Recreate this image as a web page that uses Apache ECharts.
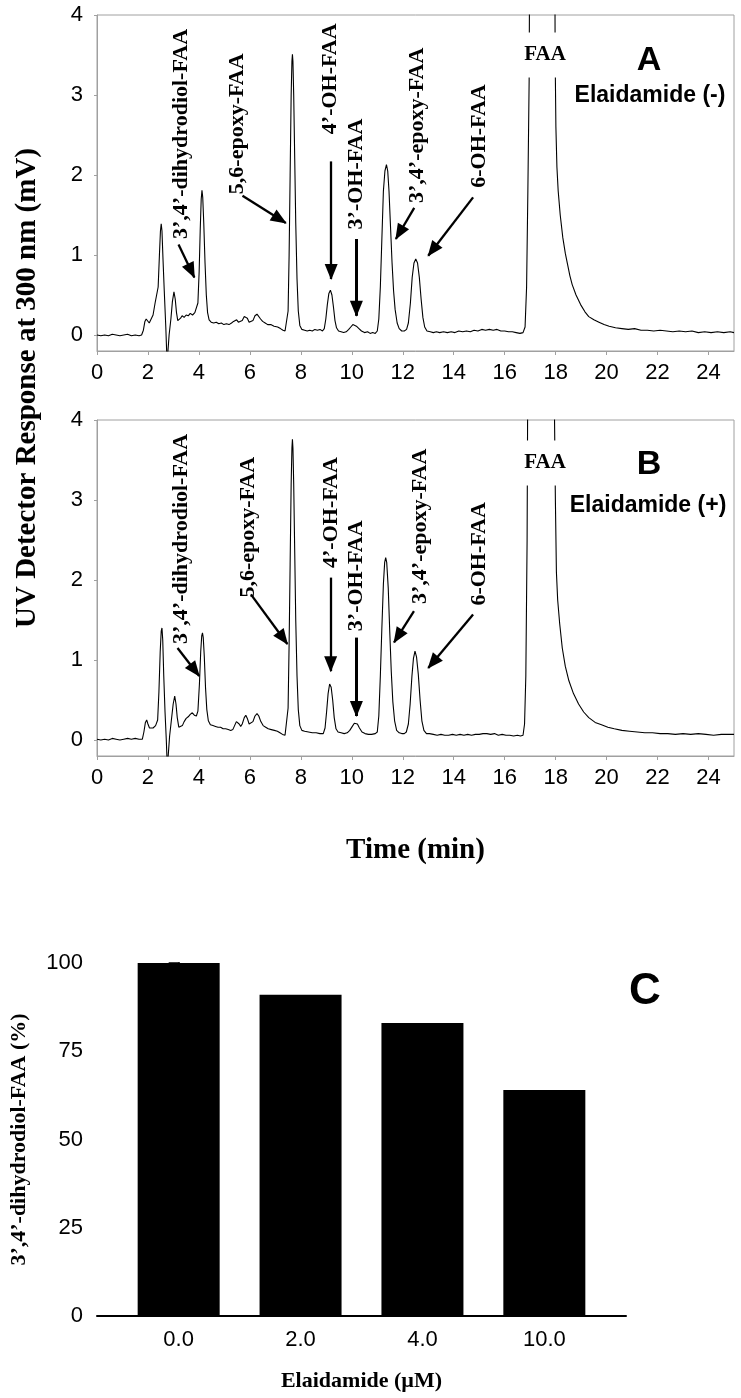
<!DOCTYPE html>
<html><head><meta charset="utf-8">
<script src="https://cdn.jsdelivr.net/npm/echarts@6/dist/echarts.min.js"></script>
<style>html,body{margin:0;padding:0;background:#fff}#c{width:741px;height:1398px}</style>
</head><body><div id="c"></div>
<script>
// ---------- DATA ----------
// Panel A chromatogram (Elaidamide -): [retention time (min), UV response (mV)]
const traceA = [[0.0,0.00],[0.15,-0.01],[0.3,0.00],[0.45,-0.01],[0.6,0.01],[0.75,0.00],[0.9,-0.01],[1.05,0.00],[1.2,0.01],[1.35,-0.01],[1.5,0.00],[1.65,-0.01],[1.75,0.00],
[1.82,0.06],[1.88,0.17],[1.93,0.20],[1.98,0.18],[2.05,0.15],[2.12,0.17],[2.2,0.25],[2.28,0.40],[2.34,0.42],[2.40,0.60],[2.45,1.00],[2.49,1.30],[2.52,1.39],[2.55,1.30],[2.59,0.95],[2.64,0.55],[2.70,0.10],[2.75,-0.35],[2.79,-0.35],[2.83,0.00],[2.90,0.20],[2.96,0.42],[3.02,0.54],[3.07,0.45],[3.12,0.28],[3.17,0.18],[3.22,0.17],[3.28,0.21],[3.34,0.24],[3.42,0.22],[3.50,0.25],[3.58,0.24],[3.66,0.27],[3.75,0.25],[3.84,0.28],[3.90,0.30],[3.96,0.40],[4.01,0.80],[4.05,1.30],[4.09,1.70],[4.12,1.81],[4.15,1.72],[4.19,1.40],[4.24,0.90],[4.29,0.50],[4.34,0.28],[4.40,0.19],[4.48,0.16],[4.58,0.15],[4.68,0.16],[4.78,0.14],[4.88,0.15],[4.98,0.13],[5.08,0.14],[5.18,0.13],[5.28,0.15],[5.36,0.17],[5.42,0.19],[5.48,0.19],[5.55,0.16],[5.62,0.15],[5.70,0.18],[5.78,0.23],[5.84,0.24],[5.90,0.21],[5.97,0.16],[6.04,0.15],[6.12,0.18],[6.20,0.24],[6.28,0.26],[6.34,0.25],[6.42,0.20],[6.50,0.17],[6.60,0.15],[6.70,0.13],[6.82,0.13],[6.95,0.11],[7.09,0.10],[7.20,0.08],[7.30,0.06],[7.38,0.05],[7.45,0.07],
[7.50,0.30],[7.54,1.00],[7.58,2.00],[7.62,3.00],[7.65,3.42],[7.67,3.51],[7.69,3.42],[7.72,3.00],[7.76,2.20],[7.80,1.40],[7.85,0.70],[7.90,0.30],[7.96,0.12],[8.04,0.07],[8.15,0.06],[8.25,0.05],[8.35,0.06],[8.45,0.05],[8.55,0.07],[8.65,0.06],[8.75,0.07],[8.85,0.05],[8.92,0.08],[8.98,0.20],[9.04,0.38],[9.10,0.52],[9.16,0.56],[9.22,0.50],[9.28,0.35],[9.34,0.18],[9.40,0.09],[9.48,0.05],[9.58,0.04],[9.68,0.03],[9.78,0.04],[9.88,0.07],[9.96,0.10],[10.04,0.13],[10.10,0.13],[10.18,0.11],[10.28,0.08],[10.38,0.05],[10.50,0.03],[10.62,0.04],[10.72,0.02],[10.82,0.03],[10.92,0.02],[11.00,0.05],[11.06,0.20],[11.12,0.60],[11.18,1.20],[11.24,1.80],[11.30,2.05],[11.36,2.13],[11.41,2.05],[11.46,1.80],[11.52,1.35],[11.58,0.90],[11.64,0.55],[11.70,0.32],[11.78,0.15],[11.86,0.08],[11.96,0.05],[12.06,0.05],[12.15,0.07],[12.22,0.15],[12.30,0.40],[12.37,0.72],[12.44,0.90],[12.51,0.95],[12.58,0.90],[12.65,0.72],[12.72,0.45],[12.79,0.22],[12.86,0.10],[12.95,0.05],[13.08,0.04],[13.20,0.03],[13.32,0.04],[13.45,0.03],[13.60,0.04],[13.75,0.03],[13.90,0.04],[14.05,0.03],[14.20,0.05],[14.35,0.04],[14.50,0.05],[14.65,0.04],[14.80,0.06],[14.95,0.05],[15.10,0.07],[15.25,0.06],[15.40,0.07],[15.55,0.06],[15.70,0.07],[15.85,0.05],[16.00,0.05],[16.15,0.04],[16.30,0.04],[16.45,0.03],[16.60,0.02],[16.72,0.03],[16.80,0.10],[16.86,0.60],[16.91,1.80],[16.96,3.18],[17.02,8.0],[17.50,12.0],[17.94,8.0],[17.98,3.50],[18.01,2.60],[18.05,2.10],[18.10,1.80],[18.18,1.50],[18.28,1.22],[18.38,1.02],[18.47,0.88],[18.56,0.74],[18.65,0.63],[18.80,0.50],[18.98,0.38],[19.15,0.29],[19.30,0.23],[19.50,0.19],[19.70,0.16],[19.90,0.13],[20.10,0.11],[20.35,0.09],[20.60,0.08],[20.85,0.07],[21.10,0.08],[21.35,0.06],[21.60,0.06],[21.85,0.05],[22.10,0.06],[22.35,0.05],[22.60,0.04],[22.85,0.05],[23.10,0.04],[23.35,0.05],[23.60,0.03],[23.85,0.04],[24.10,0.03],[24.35,0.04],[24.60,0.03],[24.85,0.04],[25.00,0.03]];
// Panel B chromatogram (Elaidamide +)
const traceB = [[0.0,0.01],[0.15,0.00],[0.3,0.01],[0.45,0.00],[0.6,0.02],[0.75,0.01],[0.9,0.00],[1.05,0.01],[1.2,0.02],[1.35,0.01],[1.5,0.02],[1.65,0.01],[1.78,0.01],
[1.84,0.10],[1.90,0.22],[1.95,0.25],[2.00,0.20],[2.06,0.15],[2.12,0.13],[2.20,0.15],[2.30,0.18],[2.38,0.25],[2.43,0.60],[2.48,1.10],[2.52,1.36],[2.55,1.40],[2.58,1.25],[2.62,0.80],[2.67,0.35],[2.72,0.00],[2.76,-0.35],[2.80,-0.35],[2.85,0.05],[2.92,0.25],[2.99,0.45],[3.05,0.55],[3.10,0.45],[3.15,0.28],[3.21,0.16],[3.28,0.14],[3.35,0.18],[3.42,0.23],[3.50,0.27],[3.58,0.29],[3.66,0.32],[3.74,0.34],[3.82,0.31],[3.90,0.30],[3.96,0.36],[4.02,0.70],[4.07,1.10],[4.11,1.30],[4.14,1.34],[4.17,1.28],[4.21,1.05],[4.26,0.65],[4.31,0.38],[4.37,0.24],[4.45,0.19],[4.55,0.18],[4.65,0.17],[4.75,0.16],[4.85,0.16],[4.95,0.14],[5.05,0.14],[5.15,0.13],[5.25,0.12],[5.33,0.13],[5.40,0.18],[5.47,0.23],[5.52,0.24],[5.58,0.20],[5.64,0.17],[5.70,0.20],[5.78,0.28],[5.84,0.31],[5.90,0.27],[5.97,0.20],[6.04,0.19],[6.12,0.23],[6.20,0.30],[6.28,0.33],[6.35,0.30],[6.43,0.23],[6.52,0.18],[6.62,0.16],[6.72,0.14],[6.84,0.13],[6.96,0.12],[7.08,0.11],[7.18,0.09],[7.28,0.07],[7.38,0.06],[7.45,0.08],
[7.50,0.40],[7.54,1.20],[7.58,2.20],[7.62,3.20],[7.65,3.65],[7.67,3.76],[7.69,3.65],[7.72,3.20],[7.76,2.35],[7.80,1.50],[7.85,0.80],[7.90,0.38],[7.96,0.18],[8.04,0.12],[8.15,0.11],[8.30,0.10],[8.45,0.09],[8.60,0.09],[8.75,0.08],[8.88,0.08],[8.95,0.15],[9.01,0.35],[9.07,0.58],[9.13,0.70],[9.19,0.66],[9.25,0.50],[9.31,0.28],[9.38,0.14],[9.46,0.10],[9.58,0.09],[9.70,0.08],[9.82,0.09],[9.92,0.12],[10.02,0.17],[10.10,0.21],[10.16,0.22],[10.22,0.20],[10.30,0.15],[10.40,0.10],[10.52,0.08],[10.65,0.07],[10.78,0.07],[10.92,0.08],[11.00,0.10],[11.06,0.30],[11.12,0.80],[11.18,1.40],[11.24,1.95],[11.29,2.22],[11.33,2.28],[11.37,2.22],[11.43,1.90],[11.49,1.35],[11.55,0.85],[11.61,0.48],[11.68,0.24],[11.76,0.12],[11.86,0.09],[11.96,0.08],[12.06,0.08],[12.14,0.10],[12.22,0.20],[12.29,0.45],[12.36,0.80],[12.42,1.02],[12.48,1.11],[12.54,1.04],[12.61,0.82],[12.68,0.50],[12.75,0.24],[12.83,0.12],[12.93,0.08],[13.05,0.08],[13.20,0.07],[13.35,0.06],[13.50,0.07],[13.65,0.06],[13.80,0.06],[13.95,0.07],[14.10,0.06],[14.25,0.07],[14.40,0.06],[14.55,0.07],[14.70,0.06],[14.85,0.07],[15.00,0.07],[15.15,0.08],[15.30,0.08],[15.45,0.07],[15.60,0.08],[15.75,0.06],[15.90,0.07],[16.05,0.06],[16.20,0.06],[16.35,0.05],[16.50,0.06],[16.62,0.05],[16.72,0.06],[16.78,0.20],[16.83,0.80],[16.88,2.50],[16.95,8.0],[17.45,12.0],[17.90,8.0],[17.95,4.2],[17.99,3.00],[18.03,2.10],[18.08,1.75],[18.16,1.45],[18.26,1.15],[18.38,0.92],[18.52,0.74],[18.70,0.58],[18.90,0.45],[19.10,0.35],[19.30,0.28],[19.55,0.22],[19.80,0.19],[20.05,0.16],[20.30,0.14],[20.60,0.12],[20.90,0.11],[21.20,0.10],[21.50,0.09],[21.80,0.09],[22.10,0.08],[22.40,0.08],[22.70,0.07],[23.00,0.08],[23.30,0.07],[23.60,0.08],[23.90,0.07],[24.20,0.06],[24.50,0.07],[24.80,0.07],[25.00,0.07]];
const timeTicks = [0,2,4,6,8,10,12,14,16,18,20,22,24];
const respTicks = [0,1,2,3,4];
// Panel C bar chart
const concLabels = ['0.0','2.0','4.0','10.0'];
const dihydrodiolPct = [100,91,83,64];
const pctTicks = [0,25,50,75,100];

// Peak annotations (data coordinates)
const peakNames = ['3’,4’-dihydrodiol-FAA','5,6-epoxy-FAA','4’-OH-FAA','3’-OH-FAA','3’,4’-epoxy-FAA','6-OH-FAA'];
const labelPosA = [[3.29,1.2],[5.51,1.76],[9.14,2.51],[10.18,1.32],[12.56,1.65],[14.99,1.84]];
const arrowsA = [[[3.2,1.13],[3.82,0.72]],[[5.71,1.74],[7.41,1.40]],[[9.19,2.17],[9.19,0.70]],[[10.18,1.2],[10.18,0.24]],[[12.45,1.59],[11.73,1.2]],[[14.76,1.72],[13.0,0.99]]];
const labelPosB = [[3.29,1.2],[5.93,1.78],[9.2,2.15],[10.16,1.36],[12.7,1.7],[14.99,1.68]];
const arrowsB = [[[3.16,1.15],[4.01,0.8]],[[6.04,1.82],[7.47,1.2]],[[9.17,2.03],[9.17,0.86]],[[10.18,1.28],[10.18,0.3]],[[12.44,1.61],[11.66,1.22]],[[14.76,1.57],[13.0,0.9]]];

// ---------- CHART ----------
const SERIF = '"Liberation Serif","Times New Roman",serif';
const SANS = '"Liberation Sans",Arial,sans-serif';
const GRAY = '#a0a0a0';
const chart = echarts.init(document.getElementById('c'), null, {renderer:'canvas', width:741, height:1398});

function arrowData(list){
  return list.map((a, i) => [
    {coord:a[0], symbol:'none', lineStyle:{width: i === 3 ? 3 : 2.3}},
    {coord:a[1], symbol:'triangle', symbolSize:[13,16], symbolOffset:[0,7]}
  ]);
}
function chromXAxis(gi, extra){
  return Object.assign({
    gridIndex:gi, type:'value', min:0, max:25,
    axisLine:{show:true, onZero:false, lineStyle:{color:GRAY, width:1}},
    axisTick:{show:true, length:4, customValues:timeTicks, lineStyle:{color:GRAY}},
    axisLabel:{customValues:timeTicks, fontFamily:SANS, fontSize:22, color:'#000', margin:11},
    splitLine:{show:false}
  }, extra||{});
}
function chromYAxis(gi){
  return {
    gridIndex:gi, type:'value', min:-0.2, max:4,
    axisLine:{show:true, onZero:false, lineStyle:{color:GRAY, width:1}},
    axisTick:{show:true, length:3, customValues:respTicks, lineStyle:{color:GRAY}},
    axisLabel:{customValues:respTicks, fontFamily:SANS, fontSize:22, color:'#000', margin:14},
    splitLine:{show:false}
  };
}
function chromSeries(gi, trace, arrows){
  return {
    type:'line', xAxisIndex:gi, yAxisIndex:gi, data:trace,
    showSymbol:false, symbol:'none', clip:true, silent:true,
    lineStyle:{color:'#000', width:1.1},
    markLine:{
      silent:true, animation:false, symbol:['none','triangle'],
      label:{show:false}, emphasis:{disabled:true},
      lineStyle:{color:'#000', width:2.3, type:'solid'},
      data:arrowData(arrows)
    }
  };
}

const option = {
  animation:false,
  backgroundColor:'#fff',
  grid:[
    {left:97, top:15, width:637, height:336, show:true, borderColor:GRAY, borderWidth:1, containLabel:false},
    {left:97, top:420, width:637, height:336, show:true, borderColor:GRAY, borderWidth:1, containLabel:false},
    {left:97, top:963, width:529, height:353, containLabel:false}
  ],
  xAxis:[
    chromXAxis(0),
    chromXAxis(1, {name:'Time (min)', nameLocation:'middle', nameGap:80,
      nameTextStyle:{fontFamily:SERIF, fontWeight:'bold', fontSize:29, color:'#000'}}),
    {gridIndex:2, type:'value', min:-0.67, max:3.67,
      axisLine:{show:true, onZero:false, lineStyle:{color:'#000', width:2}},
      axisTick:{show:false},
      axisLabel:{customValues:[0,1,2,3], formatter:v=>concLabels[Math.round(v)], fontFamily:SANS, fontSize:22, color:'#000', margin:13},
      splitLine:{show:false},
      name:'Elaidamide (µM)', nameLocation:'middle', nameGap:54,
      nameTextStyle:{fontFamily:SERIF, fontWeight:'bold', fontSize:22, color:'#000'}}
  ],
  yAxis:[
    chromYAxis(0), chromYAxis(1),
    {gridIndex:2, type:'value', min:0, max:100, interval:25,
      axisLine:{show:true, lineStyle:{color:'#000', width:2}},
      axisTick:{show:true, length:10, customValues:pctTicks, lineStyle:{color:'#000', width:1.5}},
      axisLabel:{customValues:pctTicks, fontFamily:SANS, fontSize:22, color:'#000', margin:14},
      splitLine:{show:false},
      name:'3’,4’-dihydrodiol-FAA (%)', nameLocation:'middle', nameGap:67, nameRotate:90,
      nameTextStyle:{fontFamily:SERIF, fontWeight:'bold', fontSize:22, color:'#000'}}
  ],
  series:[
    chromSeries(0, traceA, arrowsA),
    chromSeries(1, traceB, arrowsB),
    {type:'bar', xAxisIndex:2, yAxisIndex:2, barWidth:82, silent:true,
     data:dihydrodiolPct.map((v,i)=>[i,v]), itemStyle:{color:'#000'}}
  ]
};
chart.setOption(option);

// text annotations
const g = [];
function txt(x, y, text, font, opts){
  const o = Object.assign({type:'text', x:x, y:y, z:100, silent:true,
    style:{text:text, font:font, fill:'#000', align:'center', verticalAlign:'middle', textAlign:'center', textVerticalAlign:'middle'}}, opts||{});
  if (opts && opts.style) o.style = Object.assign({text:text, font:font, fill:'#000'}, opts.style);
  g.push(o);
}
function peakLabels(gi, pos){
  pos.forEach((p, i) => {
    const px = chart.convertToPixel({gridIndex:gi}, p);
    txt(px[0], px[1], peakNames[i], 'bold 22px ' + SERIF, {rotation:Math.PI/2,
      style:{align:'left', verticalAlign:'middle', textAlign:'left', textVerticalAlign:'middle'}});
  });
}
peakLabels(0, labelPosA);
peakLabels(1, labelPosB);
// FAA labels with white box over the off-scale peak
[55, 463].forEach(y => {
  g.push({type:'text', x:545, y:y, z:100, silent:true,
    style:{text:'FAA', font:'bold 21px ' + SERIF, fill:'#000', align:'center', verticalAlign:'middle',
      textAlign:'center', textVerticalAlign:'middle', backgroundColor:'#fff', padding:[12,3]}});
});
txt(649, 61, 'A', 'bold 34px ' + SANS);
txt(650, 96, 'Elaidamide (-)', 'bold 23px ' + SANS);
txt(649, 465, 'B', 'bold 34px ' + SANS);
txt(648, 506, 'Elaidamide (+)', 'bold 23px ' + SANS);
txt(645, 992, 'C', 'bold 44px ' + SANS);
txt(28, 388, 'UV Detector Response at 300 nm (mV)', 'bold 29px ' + SERIF, {rotation:Math.PI/2});
chart.setOption({graphic:g});
</script>
</body></html>
